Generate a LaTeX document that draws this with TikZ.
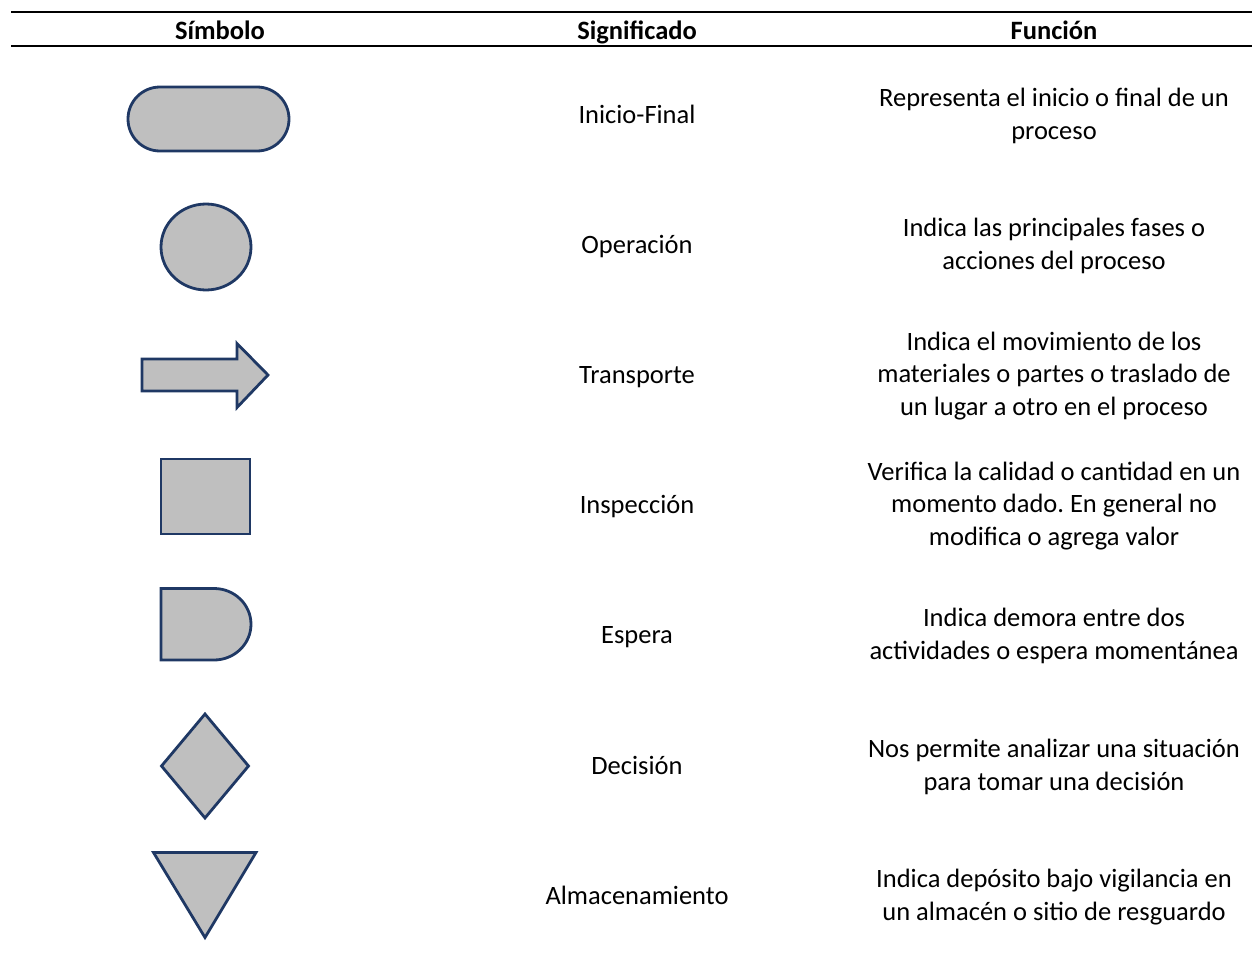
\documentclass[tikz,border=0pt]{standalone}
\usepackage{fontspec}
\setmainfont{Carlito}
\frenchspacing
\definecolor{navy}{HTML}{1F3864}
\definecolor{symfill}{HTML}{BFBFBF}
\begin{document}
\begin{tikzpicture}[x=1pt,y=-1pt,
  sym/.style={draw=navy,fill=symfill,line width=2.8pt,line join=miter},
  rule/.style={draw=black,line width=2pt},
  hdr/.style={font=\fontsize{26.5}{30}\selectfont\bfseries,anchor=base,inner sep=0pt},
  mean/.style={font=\fontsize{26.5}{32.3}\selectfont,anchor=base,inner sep=0pt},
  txt/.style={font=\fontsize{26.5}{32.3}\selectfont,align=center,anchor=center,inner sep=0pt}]
\useasboundingbox (0,0) rectangle (1252,953);
% rules
\draw[rule] (11,12) -- (1252,12);
\draw[rule] (11,46) -- (1252,46);
% headers
\node[hdr] (h1) at (220,39) {Símbolo};
\node[hdr] (h2) at (637,39) {Significado};
\node[hdr] (h3) at (1054,39) {Función};
% symbols
\draw[sym,rounded corners=32pt] (128,87) rectangle (289,151);
\draw[sym] (206,247) ellipse [x radius=45, y radius=43];
\draw[sym] (142,359) -- (237,359) -- (237,343.5) -- (268,375) -- (237,407.5) -- (237,391) -- (142,391) -- cycle;
\draw[sym] (161,459) rectangle (250,534);
\draw[sym] (161,588.5) -- (214,588.5) arc[start angle=-90, end angle=90, x radius=37, y radius=35.75] -- (161,660) -- cycle;
\draw[sym] (205,714) -- (248.5,766) -- (205,818) -- (161.5,766) -- cycle;
\draw[sym] (153.5,852.5) -- (256,852.5) -- (205,937.5) -- cycle;
% meanings
\node[mean] (m1) at (637,123) {Inicio-Final};
\node[mean] (m2) at (637,253) {Operación};
\node[mean] (m3) at (637,383) {Transporte};
\node[mean] (m4) at (637,513) {Inspección};
\node[mean] (m5) at (637,643) {Espera};
\node[mean] (m6) at (637,774) {Decisión};
\node[mean] (m7) at (637,904) {Almacenamiento};
% functions
\node[txt] (f1) at (1054,116) {Representa el inicio o final de un\\proceso};
\node[txt] (f2) at (1054,246) {Indica las principales fases o\\acciones del proceso};
\node[txt] (f3) at (1054,376) {Indica el movimiento de los\\materiales o partes o traslado de\\un lugar a otro en el proceso};
\node[txt] (f4) at (1054,506) {Verifica la calidad o cantidad en un\\momento dado. En general no\\modifica o agrega valor};
\node[txt] (f5) at (1054,636) {Indica demora entre dos\\actividades o espera momentánea};
\node[txt] (f6) at (1054,767) {Nos permite analizar una situación\\para tomar una decisión};
\node[txt] (f7) at (1054,897) {Indica depósito bajo vigilancia en\\un almacén o sitio de resguardo};
\end{tikzpicture}
\end{document}
